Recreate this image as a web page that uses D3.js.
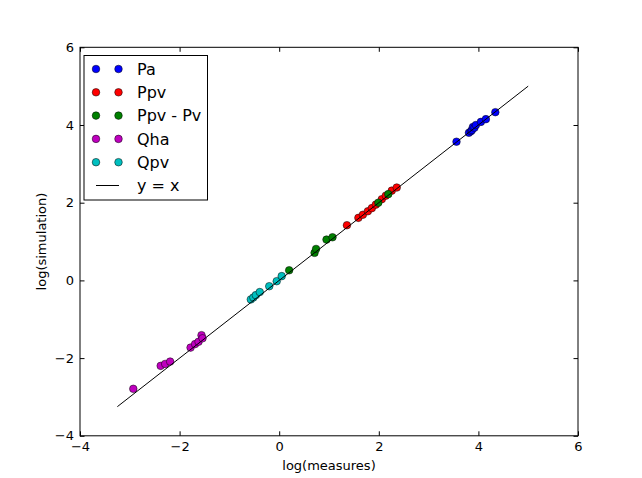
<!DOCTYPE html>
<html>
<head>
<meta charset="utf-8">
<script src="https://cdn.jsdelivr.net/npm/d3@7"></script>
<style>
  body { margin: 0; background: #fff; }
  svg text { font-family: "DejaVu Sans", sans-serif; fill: #000; }
</style>
</head>
<body>
<div id="viz"></div>
<script>
(function () {
  // series
  var seriesNames = ['Pa', 'Ppv', 'Ppv - Pv', 'Qha', 'Qpv'];
  var seriesColors = ['#0000ff', '#ff0000', '#008000', '#bf00bf', '#00bfbf'];

  var paX = [3.56, 3.81, 3.85, 3.87, 3.89, 3.92, 3.95, 4.05, 4.15, 4.34];
  var paY = [3.57, 3.80, 3.84, 3.87, 3.95, 3.93, 4.00, 4.08, 4.15, 4.33];

  var ppvX = [1.36, 1.59, 1.68, 1.78, 1.86, 1.94, 2.06, 2.14, 2.26, 2.36];
  var ppvY = [1.42, 1.61, 1.69, 1.78, 1.86, 1.95, 2.09, 2.18, 2.31, 2.39];

  var ppvPvX = [0.20, 0.71, 0.74, 0.95, 1.07, 1.99, 2.19];
  var ppvPvY = [0.26, 0.71, 0.81, 1.05, 1.11, 2.00, 2.22];

  var qhaX = [-2.93, -2.38, -2.29, -2.19, -1.78, -1.69, -1.62, -1.56, -1.54];
  var qhaY = [-2.79, -2.20, -2.15, -2.09, -1.73, -1.64, -1.58, -1.41, -1.49];

  var qpvX = [-0.57, -0.52, -0.47, -0.39, -0.20, -0.05, 0.05];
  var qpvY = [-0.49, -0.44, -0.38, -0.30, -0.15, -0.02, 0.11];

  var lineX = [-3.25, 5.0];
  var lineY = [-3.25, 5.0];

  var xTicks = [-4, -2, 0, 2, 4, 6];
  var yTicks = [-4, -2, 0, 2, 4, 6];

  var seriesX = [paX, ppvX, ppvPvX, qhaX, qpvX];
  var seriesY = [paY, ppvY, ppvPvY, qhaY, qpvY];

  var width = 642, height = 478;
  var left = 80, right = 578, top = 47.3, bottom = 435.8;

  var svg = d3.select("#viz")
    .append("svg")
    .attr("width", width)
    .attr("height", height);

  var x = d3.scaleLinear().domain([-4, 6]).range([left, right]);
  var y = d3.scaleLinear().domain([-4, 6]).range([bottom, top]);

  var fmt = function (d) { return d < 0 ? '\u2212' + Math.abs(d) : '' + d; };

  // points
  var plot = svg.append("g");
  seriesNames.forEach(function (name, s) {
    plot.append("g")
      .selectAll("circle")
      .data(seriesX[s].map(function (v, i) { return [v, seriesY[s][i]]; }))
      .enter().append("circle")
      .attr("cx", function (d) { return x(d[0]); })
      .attr("cy", function (d) { return y(d[1]); })
      .attr("r", 3.8)
      .attr("fill", seriesColors[s])
      .attr("stroke", "#000")
      .attr("stroke-width", 0.5);
  });

  // y = x line
  plot.append("path")
    .datum(lineX.map(function (v, i) { return [v, lineY[i]]; }))
    .attr("fill", "none")
    .attr("stroke", "#000")
    .attr("stroke-width", 1)
    .attr("d", d3.line().x(function (d) { return x(d[0]); }).y(function (d) { return y(d[1]); }));

  // frame
  svg.append("rect")
    .attr("x", left).attr("y", top)
    .attr("width", right - left).attr("height", bottom - top)
    .attr("fill", "none").attr("stroke", "#000").attr("stroke-width", 1);

  // axes, ticks pointing inward on all sides
  var tick = 4.5;
  var xb = svg.append("g").attr("transform", "translate(0," + bottom + ")")
    .call(d3.axisBottom(x).tickValues(xTicks).tickSizeInner(-tick).tickSizeOuter(0).tickPadding(6).tickFormat(fmt));
  var xt = svg.append("g").attr("transform", "translate(0," + top + ")")
    .call(d3.axisTop(x).tickValues(xTicks).tickSizeInner(-tick).tickSizeOuter(0).tickFormat(""));
  var yl = svg.append("g").attr("transform", "translate(" + left + ",0)")
    .call(d3.axisLeft(y).tickValues(yTicks).tickSizeInner(-tick).tickSizeOuter(0).tickPadding(6).tickFormat(fmt));
  var yr = svg.append("g").attr("transform", "translate(" + right + ",0)")
    .call(d3.axisRight(y).tickValues(yTicks).tickSizeInner(-tick).tickSizeOuter(0).tickFormat(""));

  [xb, xt, yl, yr].forEach(function (g) {
    g.select(".domain").remove();
    g.selectAll("line").attr("stroke", "#000");
    g.selectAll("text").style("font-size", "13px").style("font-family", '"DejaVu Sans", sans-serif').attr("fill", "#000");
  });

  // axis labels
  svg.append("text")
    .attr("x", (left + right) / 2).attr("y", 470)
    .attr("text-anchor", "middle")
    .style("font-size", "13px")
    .text("log(measures)");

  svg.append("text")
    .attr("transform", "translate(46," + ((top + bottom) / 2) + ") rotate(-90)")
    .attr("text-anchor", "middle")
    .style("font-size", "13px")
    .text("log(simulation)");

  // legend
  var legend = svg.append("g");
  legend.append("rect")
    .attr("x", 84).attr("y", 55.5)
    .attr("width", 123.5).attr("height", 144.5)
    .attr("fill", "#fff").attr("stroke", "#000").attr("stroke-width", 1);

  var rowY = function (i) { return 69 + i * 23.3; };
  seriesNames.forEach(function (name, s) {
    [96, 118.5].forEach(function (cx) {
      legend.append("circle")
        .attr("cx", cx).attr("cy", rowY(s))
        .attr("r", 3.8)
        .attr("fill", seriesColors[s])
        .attr("stroke", "#000").attr("stroke-width", 0.5);
    });
    legend.append("text")
      .attr("x", 137).attr("y", rowY(s))
      .attr("dy", "0.36em")
      .style("font-size", "16px")
      .text(name);
  });
  legend.append("line")
    .attr("x1", 96).attr("x2", 119)
    .attr("y1", rowY(5)).attr("y2", rowY(5))
    .attr("stroke", "#000").attr("stroke-width", 1);
  legend.append("text")
    .attr("x", 137).attr("y", rowY(5))
    .attr("dy", "0.36em")
    .style("font-size", "16px")
    .text("y = x");
})();
</script>
</body>
</html>
